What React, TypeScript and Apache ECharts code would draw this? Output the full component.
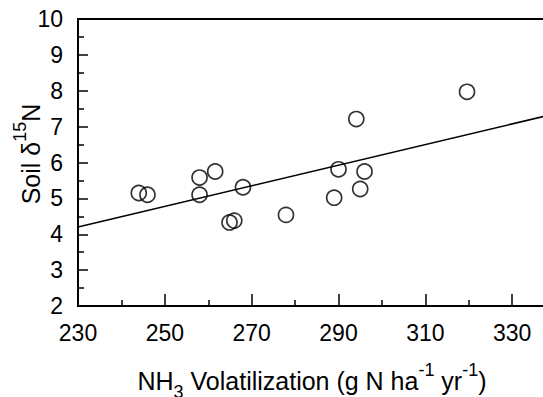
import React, { useEffect, useRef } from "react";
import * as echarts from "echarts";

const nh3Volatilization: number[] = [244.0, 246.0, 258.0, 258.0, 261.6, 268.0, 264.9, 266.0, 277.9, 289.0, 290.0, 294.1, 295.0, 296.0, 319.6];
const soilDelta15N: number[] = [5.15, 5.10, 5.58, 5.10, 5.75, 5.31, 4.33, 4.38, 4.54, 5.02, 5.81, 7.21, 5.26, 5.75, 7.97];
const fitX: number[] = [230, 350];
const fitY: number[] = [4.2, 7.65];

const FONT = "'Liberation Sans', Arial, Helvetica, sans-serif";

export default function App() {
  const ref = useRef<HTMLDivElement>(null);
  useEffect(() => {
    if (!ref.current) return;
    const chart = echarts.init(ref.current, undefined, { renderer: "svg" });
    const points = nh3Volatilization.map((x, i) => [x, soilDelta15N[i]]);
    const fit = fitX.map((x, i) => [x, fitY[i]]);
    chart.setOption({
      animation: false,
      backgroundColor: "#ffffff",
      textStyle: { fontFamily: FONT, color: "#000" },
      grid: {
        left: 78,
        top: 19,
        height: 287,
        width: 521,
        outerBoundsMode: "none",
        containLabel: false,
        show: true,
        borderColor: "#000",
        borderWidth: 2,
        backgroundColor: "transparent",
      },
      xAxis: {
        type: "value",
        min: 230,
        max: 350,
        interval: 20,
        axisLine: { show: true, lineStyle: { color: "#000", width: 2 } },
        axisTick: { show: true, inside: true, length: 12, lineStyle: { color: "#000", width: 1.5 } },
        minorTick: { show: true, splitNumber: 2, length: 6, lineStyle: { color: "#000", width: 1.5 } },
        splitLine: { show: false },
        minorSplitLine: { show: false },
        axisLabel: { fontSize: 23, color: "#000", fontFamily: FONT, margin: 15, showMaxLabel: false },
      },
      yAxis: {
        type: "value",
        min: 2,
        max: 10,
        interval: 1,
        axisLine: { show: true, lineStyle: { color: "#000", width: 2 } },
        axisTick: { show: true, inside: true, length: 10, lineStyle: { color: "#000", width: 1.5 } },
        minorTick: { show: true, splitNumber: 2, length: 6, lineStyle: { color: "#000", width: 1.5 } },
        splitLine: { show: false },
        minorSplitLine: { show: false },
        axisLabel: { fontSize: 23, color: "#000", fontFamily: FONT, margin: 15 },
      },
      graphic: [
        {
          type: "text",
          x: 312,
          y: 381,
          style: {
            text: "{a|NH}{sub|3}{a| Volatilization (g N ha}{sup|-1}{a| yr}{sup|-1}{a|)}",
            align: "center",
            verticalAlign: "middle",
            fill: "#000",
            rich: {
              a: { fontSize: 25, lineHeight: 40, fontFamily: FONT, fill: "#000" },
              sub: { fontSize: 18, lineHeight: 18, verticalAlign: "bottom", fontFamily: FONT, fill: "#000" },
              sup: { fontSize: 18, lineHeight: 22, verticalAlign: "top", fontFamily: FONT, fill: "#000" },
            },
          },
        },
        {
          type: "text",
          x: 31,
          y: 154,
          rotation: Math.PI / 2,
          style: {
            text: "{a|Soil δ}{sup|15}{a|N}",
            align: "center",
            verticalAlign: "middle",
            fill: "#000",
            rich: {
              a: { fontSize: 25, lineHeight: 40, fontFamily: FONT, fill: "#000" },
              sup: { fontSize: 18, lineHeight: 22, verticalAlign: "top", fontFamily: FONT, fill: "#000" },
            },
          },
        },
      ],
      series: [
        {
          type: "line",
          data: fit,
          showSymbol: false,
          symbol: "none",
          lineStyle: { color: "#000", width: 1.6 },
          z: 2,
        },
        {
          type: "scatter",
          data: points,
          symbol: "circle",
          symbolSize: 15,
          itemStyle: { color: "transparent", borderColor: "#000", borderWidth: 1.7 },
          z: 3,
        },
      ],
    });
    return () => chart.dispose();
  }, []);
  return <div ref={ref} style={{ width: 543, height: 397, position: "absolute", left: 0, top: 0 }} />;
}
